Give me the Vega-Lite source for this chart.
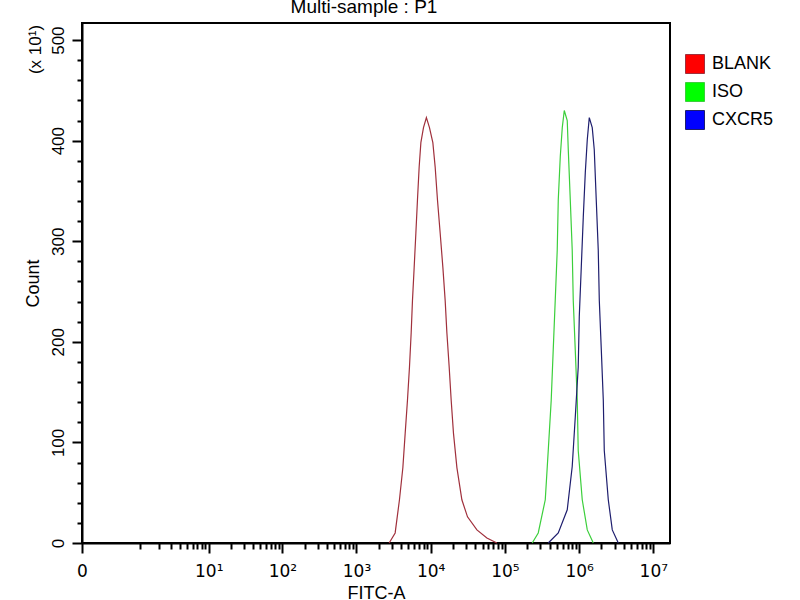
{
  "$schema": "https://vega.github.io/schema/vega-lite/v6.json",
  "autosize": "none",
  "width": 588,
  "height": 520,
  "padding": {"left": 82, "top": 23, "right": 130, "bottom": 57},
  "background": "white",
  "config": {
    "font": "Liberation Sans",
    "view": {"stroke": "black", "strokeWidth": 2},
    "axis": {"grid": false, "domainColor": "black", "domainWidth": 2, "tickColor": "black", "tickWidth": 2, "labelColor": "black", "titleColor": "black", "labelFont": "Liberation Sans", "titleFont": "Liberation Sans", "titleFontWeight": "normal"}
  },
  "title": {"text": "Multi-sample : P1", "fontSize": 19, "fontWeight": "normal", "color": "black", "anchor": "middle", "offset": 6, "dx": -12},
  "data": {
    "values": [
      {"series": "BLANK", "fitc": 2754, "count": 0},
      {"series": "BLANK", "fitc": 3319, "count": 10},
      {"series": "BLANK", "fitc": 3793, "count": 43},
      {"series": "BLANK", "fitc": 4217, "count": 75},
      {"series": "BLANK", "fitc": 4529, "count": 109},
      {"series": "BLANK", "fitc": 4863, "count": 142},
      {"series": "BLANK", "fitc": 5176, "count": 175},
      {"series": "BLANK", "fitc": 5456, "count": 209},
      {"series": "BLANK", "fitc": 5679, "count": 241},
      {"series": "BLANK", "fitc": 5986, "count": 274},
      {"series": "BLANK", "fitc": 6310, "count": 308},
      {"series": "BLANK", "fitc": 6632, "count": 341},
      {"series": "BLANK", "fitc": 6993, "count": 374},
      {"series": "BLANK", "fitc": 7372, "count": 398},
      {"series": "BLANK", "fitc": 7992, "count": 413},
      {"series": "BLANK", "fitc": 8750, "count": 423},
      {"series": "BLANK", "fitc": 9628, "count": 413},
      {"series": "BLANK", "fitc": 10690, "count": 398},
      {"series": "BLANK", "fitc": 11480, "count": 374},
      {"series": "BLANK", "fitc": 12340, "count": 341},
      {"series": "BLANK", "fitc": 13420, "count": 308},
      {"series": "BLANK", "fitc": 14590, "count": 274},
      {"series": "BLANK", "fitc": 15670, "count": 241},
      {"series": "BLANK", "fitc": 16520, "count": 209},
      {"series": "BLANK", "fitc": 17740, "count": 175},
      {"series": "BLANK", "fitc": 18880, "count": 142},
      {"series": "BLANK", "fitc": 20280, "count": 109},
      {"series": "BLANK", "fitc": 22540, "count": 75},
      {"series": "BLANK", "fitc": 26310, "count": 43},
      {"series": "BLANK", "fitc": 31330, "count": 26},
      {"series": "BLANK", "fitc": 41950, "count": 13},
      {"series": "BLANK", "fitc": 57180, "count": 5},
      {"series": "BLANK", "fitc": 77990, "count": 0},
      {"series": "ISO", "fitc": 233300, "count": 0},
      {"series": "ISO", "fitc": 281200, "count": 10},
      {"series": "ISO", "fitc": 349900, "count": 43},
      {"series": "ISO", "fitc": 383700, "count": 92},
      {"series": "ISO", "fitc": 420700, "count": 142},
      {"series": "ISO", "fitc": 447700, "count": 192},
      {"series": "ISO", "fitc": 476400, "count": 241},
      {"series": "ISO", "fitc": 507000, "count": 291},
      {"series": "ISO", "fitc": 523600, "count": 341},
      {"series": "ISO", "fitc": 557200, "count": 384},
      {"series": "ISO", "fitc": 592900, "count": 413},
      {"series": "ISO", "fitc": 631000, "count": 430},
      {"series": "ISO", "fitc": 691800, "count": 420},
      {"series": "ISO", "fitc": 714500, "count": 391},
      {"series": "ISO", "fitc": 760300, "count": 341},
      {"series": "ISO", "fitc": 807400, "count": 291},
      {"series": "ISO", "fitc": 833700, "count": 241},
      {"series": "ISO", "fitc": 887200, "count": 192},
      {"series": "ISO", "fitc": 944100, "count": 142},
      {"series": "ISO", "fitc": 972800, "count": 92},
      {"series": "ISO", "fitc": 1102000, "count": 43},
      {"series": "ISO", "fitc": 1288000, "count": 13},
      {"series": "ISO", "fitc": 1552000, "count": 0},
      {"series": "CXCR5", "fitc": 383700, "count": 0},
      {"series": "CXCR5", "fitc": 523600, "count": 10},
      {"series": "CXCR5", "fitc": 691800, "count": 33},
      {"series": "CXCR5", "fitc": 807400, "count": 76},
      {"series": "CXCR5", "fitc": 887200, "count": 125},
      {"series": "CXCR5", "fitc": 972800, "count": 175},
      {"series": "CXCR5", "fitc": 1005000, "count": 225},
      {"series": "CXCR5", "fitc": 1069000, "count": 274},
      {"series": "CXCR5", "fitc": 1138000, "count": 324},
      {"series": "CXCR5", "fitc": 1211000, "count": 368},
      {"series": "CXCR5", "fitc": 1288000, "count": 401},
      {"series": "CXCR5", "fitc": 1371000, "count": 423},
      {"series": "CXCR5", "fitc": 1503000, "count": 413},
      {"series": "CXCR5", "fitc": 1600000, "count": 391},
      {"series": "CXCR5", "fitc": 1702000, "count": 341},
      {"series": "CXCR5", "fitc": 1811000, "count": 291},
      {"series": "CXCR5", "fitc": 1871000, "count": 241},
      {"series": "CXCR5", "fitc": 1991000, "count": 192},
      {"series": "CXCR5", "fitc": 2118000, "count": 142},
      {"series": "CXCR5", "fitc": 2183000, "count": 92},
      {"series": "CXCR5", "fitc": 2472000, "count": 43},
      {"series": "CXCR5", "fitc": 2799000, "count": 13},
      {"series": "CXCR5", "fitc": 3373000, "count": 0}
    ]
  },
  "resolve": {"axis": {"x": "independent", "y": "independent"}},
  "layer": [
    {
      "mark": {"type": "line", "strokeWidth": 1.2},
      "encoding": {
        "x": {
          "field": "fitc", "type": "quantitative",
          "scale": {"type": "symlog", "constant": 0.2, "domain": [0, 16777215], "nice": false, "zero": false},
          "axis": {
            "orient": "bottom", "title": "FITC-A", "titleFontSize": 18, "titleX": 294, "titleY": 55, "titleBaseline": "alphabetic",
            "values": [0, 10, 100, 1000, 10000, 100000, 1000000, 10000000],
            "labelExpr": "datum.value == 0 ? '0' : '10' + ['⁰','¹','²','³','⁴','⁵','⁶','⁷'][round(log(datum.value) / LN10)]",
            "labelFont": "DejaVu Sans", "labelFontSize": 17, "labelBaseline": "alphabetic", "labelPadding": 23, "tickSize": 10, "labelFlush": false, "labelOverlap": false
          }
        },
        "y": {
          "field": "count", "type": "quantitative",
          "scale": {"domain": [0, 517], "nice": false},
          "axis": {
            "orient": "left", "title": "Count", "titleFontSize": 18, "titleAngle": 270, "titleX": -44, "titleY": 260, "titleBaseline": "alphabetic", "titleAlign": "center",
            "values": [0, 100, 200, 300, 400, 500],
            "labelAngle": 270, "labelAlign": "center", "labelBaseline": "alphabetic", "labelFontSize": 17, "labelPadding": 9, "tickSize": 10, "labelFlush": false
          }
        },
        "color": {
          "field": "series", "type": "nominal",
          "scale": {"domain": ["BLANK", "ISO", "CXCR5"], "range": ["#a0303c", "#3ccf3c", "#1e1e6e"]},
          "legend": {
            "title": null, "orient": "none", "legendX": 603, "legendY": 31, "padding": 0,
            "symbolType": "square", "symbolSize": 361, "symbolStrokeWidth": 1, "symbolStrokeColor": "#222222", "rowPadding": 4,
            "labelFontSize": 18, "labelOffset": 7, "labelColor": "black", "labelFont": "Liberation Sans",
            "encode": {
              "symbols": {
                "update": {
                  "fill": {"signal": "datum.label === 'BLANK' ? '#ff0000' : datum.label === 'ISO' ? '#00ff00' : '#0000ff'"},
                  "stroke": {"value": "#222222"},
                  "strokeWidth": {"value": 1},
                  "opacity": {"value": 1}
                }
              }
            }
          }
        }
      }
    },
    {
      "mark": {"type": "line", "opacity": 0},
      "encoding": {
        "x": {
          "field": "fitc", "type": "quantitative",
          "axis": {
            "orient": "bottom", "title": null, "labels": false, "domain": false, "tickSize": 6,
            "values": [1, 2, 3, 4, 5, 6, 7, 8, 9, 20, 30, 40, 50, 60, 70, 80, 90, 200, 300, 400, 500, 600, 700, 800, 900, 2000, 3000, 4000, 5000, 6000, 7000, 8000, 9000, 20000, 30000, 40000, 50000, 60000, 70000, 80000, 90000, 200000, 300000, 400000, 500000, 600000, 700000, 800000, 900000, 2000000, 3000000, 4000000, 5000000, 6000000, 7000000, 8000000, 9000000]
          }
        },
        "y": {
          "field": "count", "type": "quantitative",
          "axis": {
            "orient": "left", "labels": false, "domain": false, "tickSize": 5,
            "values": [20, 40, 60, 80, 120, 140, 160, 180, 220, 240, 260, 280, 320, 340, 360, 380, 420, 440, 460, 480],
            "title": "(x 10¹)", "titleFontSize": 17, "titleAngle": 270, "titleX": -42, "titleY": 26, "titleBaseline": "alphabetic", "titleAlign": "center"
          }
        },
        "detail": {"field": "series"}
      }
    }
  ]
}
